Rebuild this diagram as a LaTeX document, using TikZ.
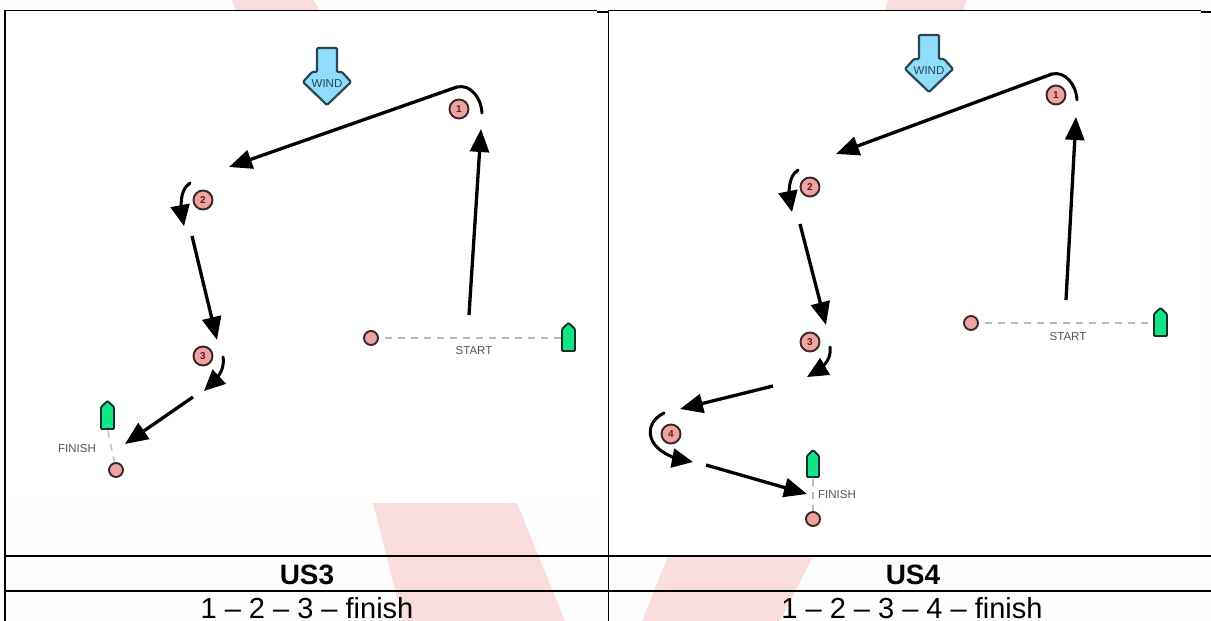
\documentclass[tikz,border=0pt]{standalone}
\usepackage{fontspec}
\setmainfont{Liberation Sans}
\usetikzlibrary{arrows.meta,bending}
\definecolor{wm}{HTML}{F9DCDC}
\definecolor{pagebg}{HTML}{FDFDFD}
\definecolor{windfill}{HTML}{8FDDFA}
\definecolor{windline}{HTML}{2A4655}
\definecolor{markfill}{HTML}{EFA3A3}
\definecolor{markline}{HTML}{3A2626}
\definecolor{boatfill}{HTML}{12E585}
\definecolor{boatline}{HTML}{10302A}
\definecolor{labelgrey}{HTML}{555555}
\tikzset{
  rule/.style={line width=2pt,black},
  thinrule/.style={line width=1.5pt,black},
  course/.style={line width=3.3pt,black,line cap=butt,-{Triangle[length=23pt,width=19pt]}},
  turnline/.style={line width=3pt,black,line cap=round},
  turnhead/.style={-{Triangle[length=21pt,width=19pt,flex=0.6]}},
  roundmark/.style={circle,draw=markline,fill=markfill,line width=1.9pt,minimum size=19pt,inner sep=0pt,font=\fontsize{10}{10}\selectfont\bfseries,text=markline!80!red},
  endmark/.style={circle,draw=markline,fill=markfill,line width=1.9pt,minimum size=14pt,inner sep=0pt},
  lineseg/.style={line width=1.3pt,gray!55,dash pattern=on 7pt off 6pt},
  boat/.style={draw=boatline,fill=boatfill,line width=1.9pt,rounded corners=1pt},
  wind/.style={draw=windline,fill=windfill,line width=2.2pt,line join=round,rounded corners=1.2pt},
  smalltext/.style={font=\fontsize{11.5}{12}\selectfont,text=labelgrey},
  windtext/.style={font=\fontsize{11.5}{12}\selectfont,text=windline},
  headtext/.style={font=\fontsize{28}{28}\selectfont\bfseries,anchor=base,inner sep=0pt},
  bodytext/.style={font=\fontsize{29}{29}\selectfont,anchor=base,inner sep=0pt}
}
\begin{document}
\begin{tikzpicture}[x=1pt,y=-1pt]
\useasboundingbox (0,0) rectangle (1211,621);
\fill[pagebg] (0,0) rectangle (1211,621);
% watermark
\fill[wm] (232,0) -- (313,0) -- (320,11) -- (236,11) -- cycle;
\fill[wm] (888,0) -- (966,0) -- (963,11) -- (885,11) -- cycle;
\fill[wm] (373,503) -- (517,503) -- (565,621) -- (403,621) -- cycle;
\fill[wm] (668,556) -- (813,556) -- (780,621) -- (642,621) -- cycle;
% image panels
\fill[white] (6,11) rectangle (607,503);
\fill[white] (610,11) rectangle (1201,555);
% table rules
\draw[thinrule] (4,10.5) -- (597,10.5);
\draw[rule] (597,11.5) -- (609,11.5);
\draw[thinrule] (609,10.5) -- (1201,10.5);
\draw[rule] (1201,11.5) -- (1211,11.5);
\draw[thinrule] (5,10) -- (5,621);
\draw[thinrule] (608.5,10) -- (608.5,621);
\draw[rule] (4,555.5) -- (1211,555.5);
\draw[rule] (4,590.5) -- (1211,590.5);
% table text
\node[headtext] (h3) at (307,584) {US3};
\node[headtext] (h4) at (913,584) {US4};
\node[bodytext] (b3) at (307,618) {1 – 2 – 3 – finish};
\node[bodytext] (b4) at (912,618) {1 – 2 – 3 – 4 – finish};
% LEFT PANEL
\draw[wind] (317,48) -- (337,48) -- (337,72) -- (342,72) -- (351,82) -- (327,105) -- (303,82) -- (312,72) -- (317,72) -- cycle;
\node[windtext] (windL) at (327,84) {WIND};
\node[roundmark] (La) at (459,109) {1};
\node[roundmark] (Lb) at (203,200) {2};
\node[roundmark] (Lc) at (203,356) {3};
\coordinate (La0) at (469,315); \coordinate (La1) at (481,129);
\draw[course] (La0) -- (La1);
\coordinate (Lb0) at (482,113); \coordinate (Lb1) at (457,87); \coordinate (Lb2) at (229,167);
\draw[turnline] (Lb0) .. controls (481,97) and (470,84) .. (Lb1);
\draw[course] (Lb1) -- (Lb2);
\coordinate (Lc0) at (190,183); \coordinate (Lc1) at (184,226);
\draw[turnline,turnhead] (Lc0) .. controls (182,188) and (178,202) .. (Lc1);
\coordinate (Ld0) at (192,236); \coordinate (Ld1) at (217,340);
\draw[course] (Ld0) -- (Ld1);
\coordinate (Le0) at (223,357); \coordinate (Le1) at (204,391);
\draw[turnline,turnhead] (Le0) .. controls (225,369) and (219,378) .. (Le1);
\coordinate (Lf0) at (193,397); \coordinate (Lf1) at (125,444);
\draw[course] (Lf0) -- (Lf1);
\node[endmark] (Lfin) at (116,470) {};
\coordinate (Lfd) at (108,431);
\draw[lineseg] (Lfd) -- (Lfin);
\draw[boat] (101,429) -- (101,407) -- (107.5,401) -- (114,407) -- (114,429) -- cycle;
\node[smalltext] (finL) at (77,449) {FINISH};
\node[endmark] (Lst) at (371,338) {};
\coordinate (Lsd) at (562,338);
\draw[lineseg] (Lst) ++(14,0) -- (Lsd);
\draw[boat] (562,351) -- (562,329) -- (568.5,323) -- (575,329) -- (575,351) -- cycle;
\node[smalltext] (stL) at (474,351) {START};
% RIGHT PANEL
\draw[wind] (919,35) -- (939,35) -- (939,59) -- (944,59) -- (953,69) -- (929,92) -- (905,69) -- (914,59) -- (919,59) -- cycle;
\node[windtext] (windR) at (929,71) {WIND};
\node[roundmark] (Ra) at (1056,95) {1};
\node[roundmark] (Rb) at (810,187) {2};
\node[roundmark] (Rc) at (810,342) {3};
\node[roundmark] (Rd) at (671,434) {4};
\coordinate (Ra0) at (1066,300); \coordinate (Ra1) at (1076,117);
\draw[course] (Ra0) -- (Ra1);
\coordinate (Rb0) at (1077,100); \coordinate (Rb1) at (1052,74); \coordinate (Rb2) at (836,154);
\draw[turnline] (Rb0) .. controls (1076,84) and (1065,71) .. (Rb1);
\draw[course] (Rb1) -- (Rb2);
\coordinate (Rc0) at (798,170); \coordinate (Rc1) at (792,212);
\draw[turnline,turnhead] (Rc0) .. controls (790,175) and (786,190) .. (Rc1);
\coordinate (Rd0) at (800,224); \coordinate (Rd1) at (826,325);
\draw[course] (Rd0) -- (Rd1);
\coordinate (Re0) at (830,347); \coordinate (Re1) at (807,377);
\draw[turnline,turnhead] (Re0) .. controls (832,358) and (824,369) .. (Re1);
\coordinate (Rf0) at (773,386); \coordinate (Rf1) at (680,409);
\draw[course] (Rf0) -- (Rf1);
\coordinate (Rg0) at (664,413); \coordinate (Rg1) at (693,462);
\draw[turnline,turnhead] (Rg0) .. controls (640,425) and (646,456) .. (Rg1);
\coordinate (Rh0) at (706,465); \coordinate (Rh1) at (807,494);
\draw[course] (Rh0) -- (Rh1);
\node[endmark] (Rfin) at (813,519) {};
\coordinate (Rfd) at (813,479);
\draw[lineseg] (Rfd) -- (Rfin);
\draw[boat] (807,477) -- (807,456) -- (813,450) -- (819,456) -- (819,477) -- cycle;
\node[smalltext] (finR) at (837,495) {FINISH};
\node[endmark] (Rst) at (971,323) {};
\coordinate (Rsd) at (1154,323);
\draw[lineseg] (Rst) ++(14,0) -- (Rsd);
\draw[boat] (1154,336) -- (1154,314) -- (1160.5,308) -- (1167,314) -- (1167,336) -- cycle;
\node[smalltext] (stR) at (1068,337) {START};
\end{tikzpicture}
\end{document}
